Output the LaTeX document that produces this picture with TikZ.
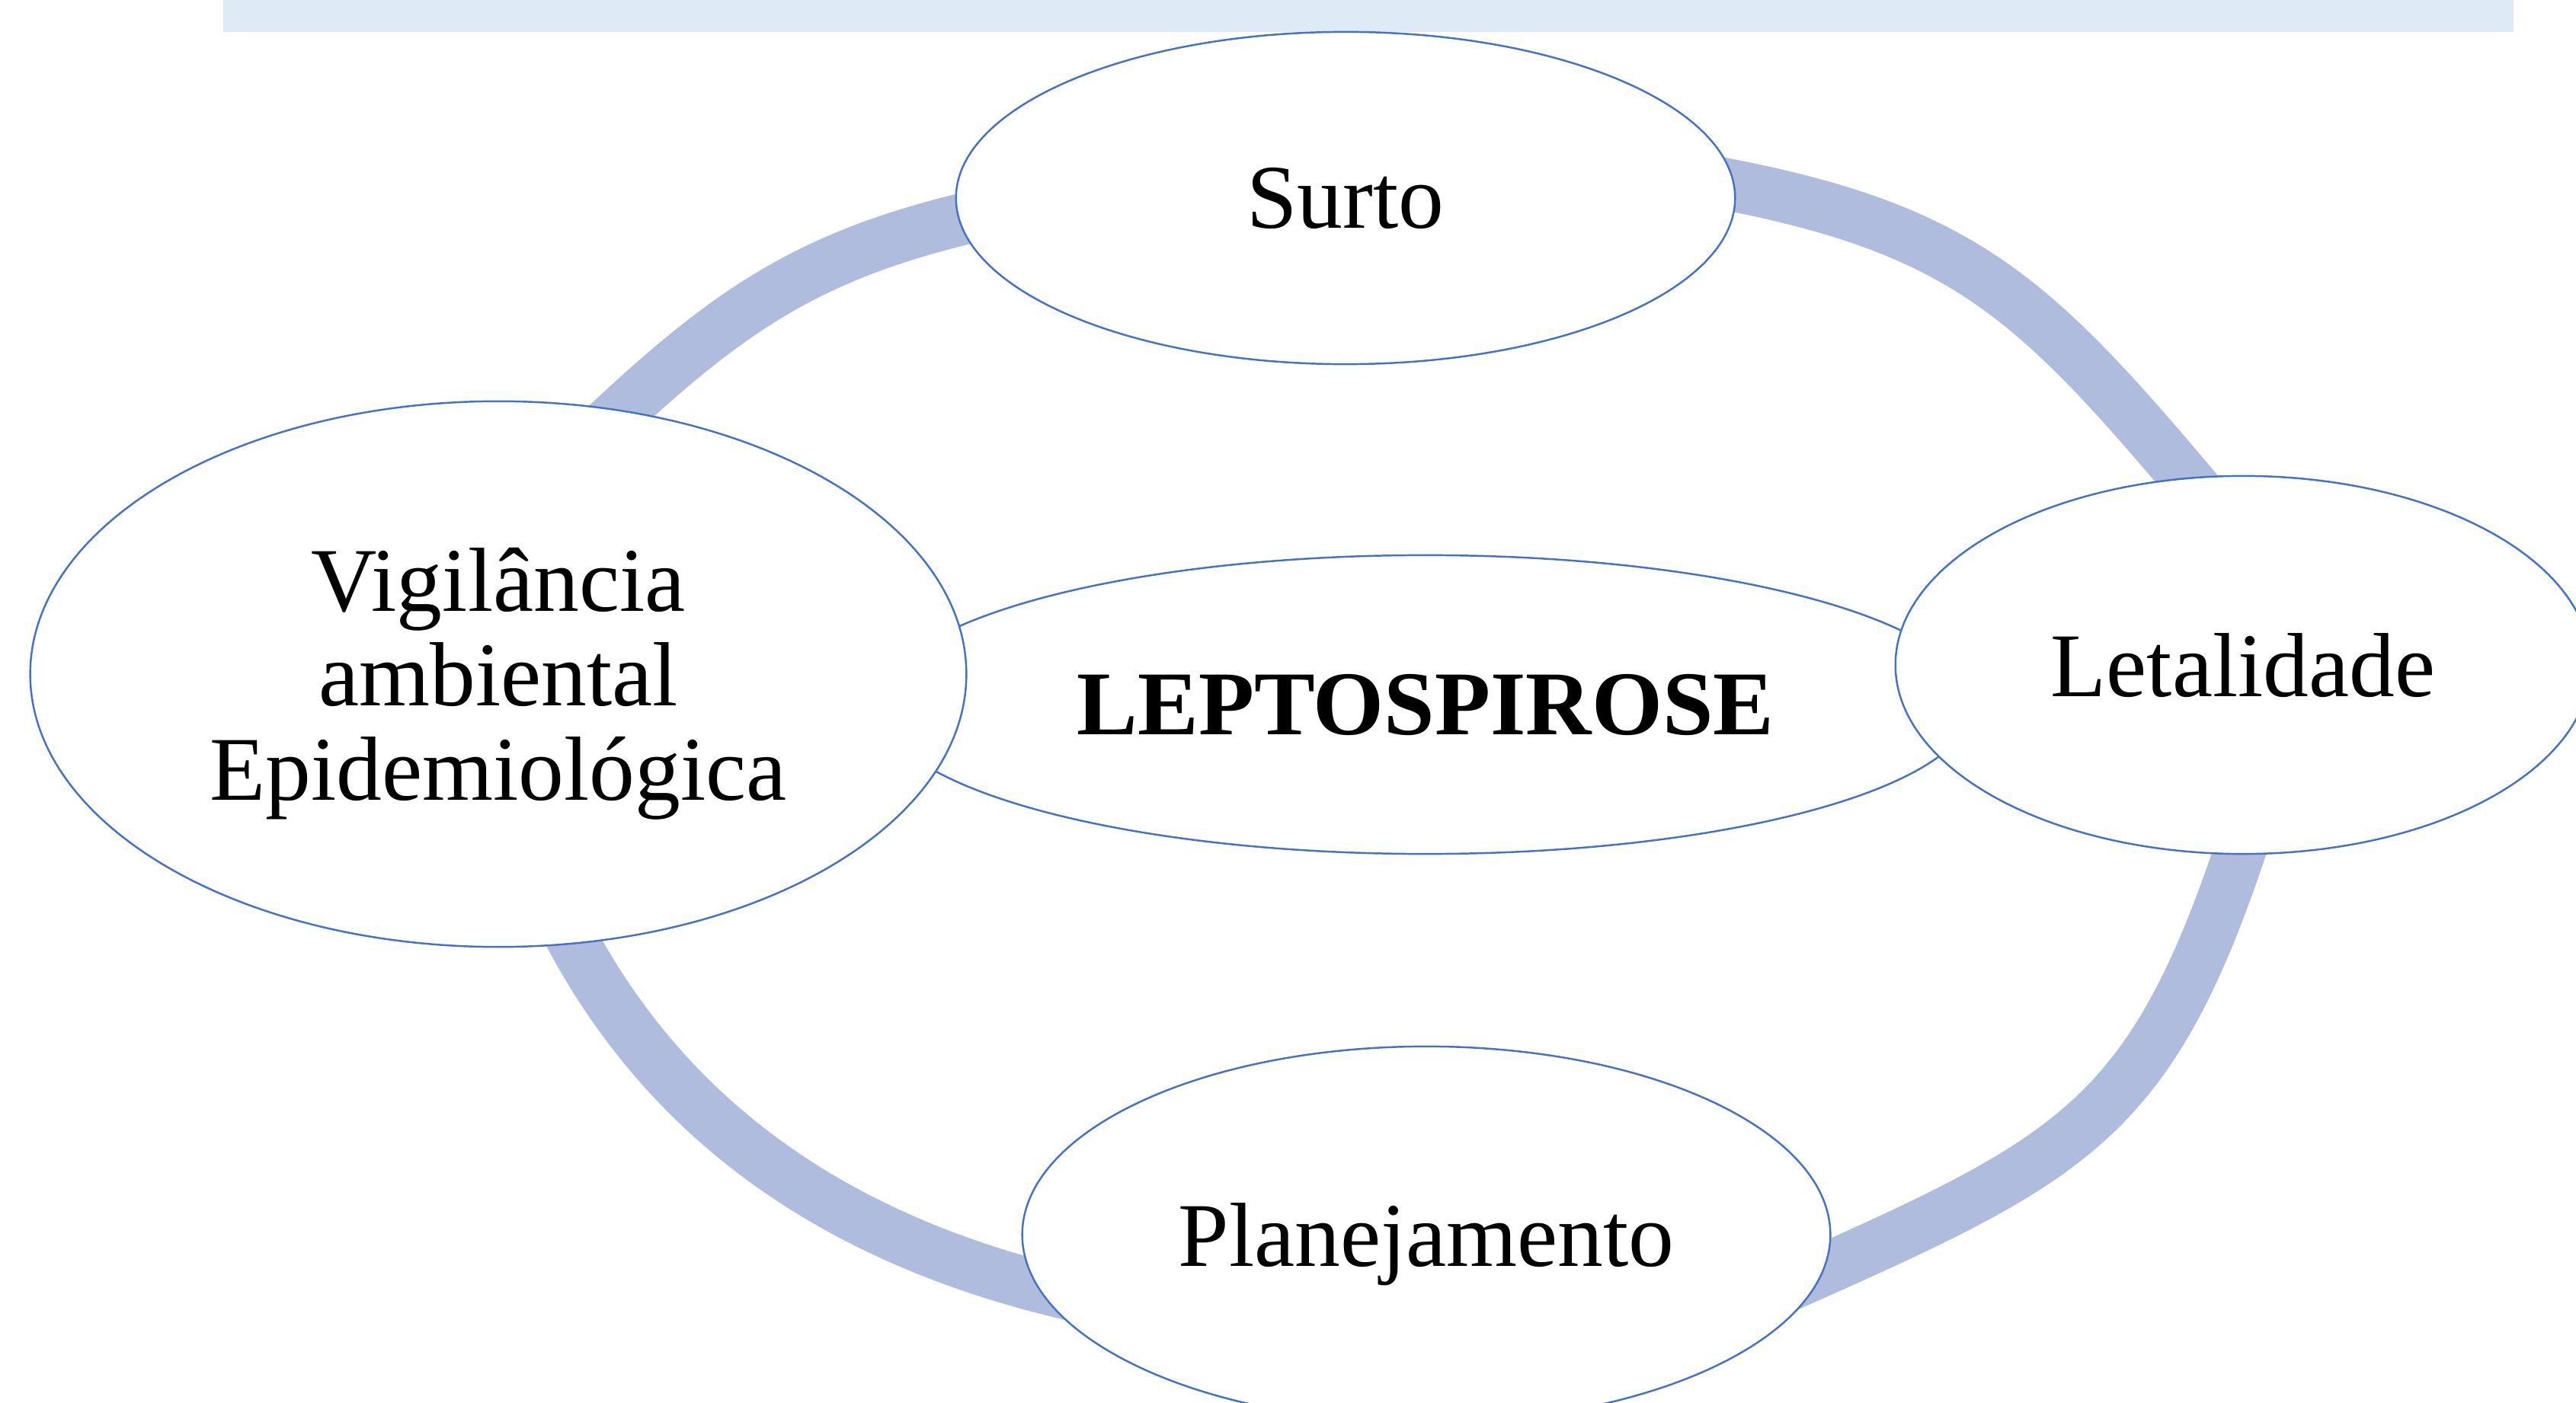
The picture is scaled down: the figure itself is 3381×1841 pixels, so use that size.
\documentclass[tikz,border=0pt]{standalone}
\usepackage{fontspec}
\setmainfont{Liberation Serif}
\usepackage{tikz}
\usetikzlibrary{shapes.geometric, backgrounds}
\definecolor{edgeblue}{HTML}{4472C4}
\definecolor{ringblue}{HTML}{AFBCDE}
\definecolor{bandblue}{HTML}{DEEAF6}

\begin{document}
\begin{tikzpicture}[x=0.01cm, y=0.01cm,
    bubble/.style={ellipse, draw=edgeblue, fill=white, line width=0.7pt,
        inner sep=0pt, text depth=0pt, align=center,
        font=\fontsize{34}{35.3}\selectfont},
    ringarc/.style={draw=ringblue, line width=0.68cm,
        shorten <=-1cm, shorten >=-1cm}]
\useasboundingbox (0,0) rectangle (3381,1841);

\fill[bandblue] (293,1799) rectangle (3299,1841);

\node[bubble, minimum width=14.36cm, minimum height=3.92cm,
    font=\fontsize{34}{35.3}\selectfont\bfseries] (lep) at (1871,916) {LEPTOSPIROSE};
\node[bubble, minimum width=10.22cm, minimum height=4.36cm] (surto) at (1766,1581) {Surto};
\node[bubble, minimum width=12.28cm, minimum height=7.16cm] (vig) at (654,956)
    {Vigilância\\ambiental\\Epidemiológica};
\node[bubble, minimum width=9.12cm, minimum height=4.96cm] (letal) at (2944,968) {Letalidade};
\node[bubble, minimum width=10.6cm, minimum height=4.94cm] (plan) at (1872,220) {Planejamento};

\begin{pgfonlayer}{background}
\draw[ringarc] (vig.65) to[out=44, in=191] (surto.183);
\draw[ringarc] (surto.2) to[out=-9, in=130, looseness=1.15] (letal.107);
\draw[ringarc] (letal.269) to[out=253, in=24, looseness=1.25] (plan.355);
\draw[ringarc] (plan.188) to[out=169, in=-67, looseness=0.85] (vig.285);
\end{pgfonlayer}

\end{tikzpicture}
\end{document}
